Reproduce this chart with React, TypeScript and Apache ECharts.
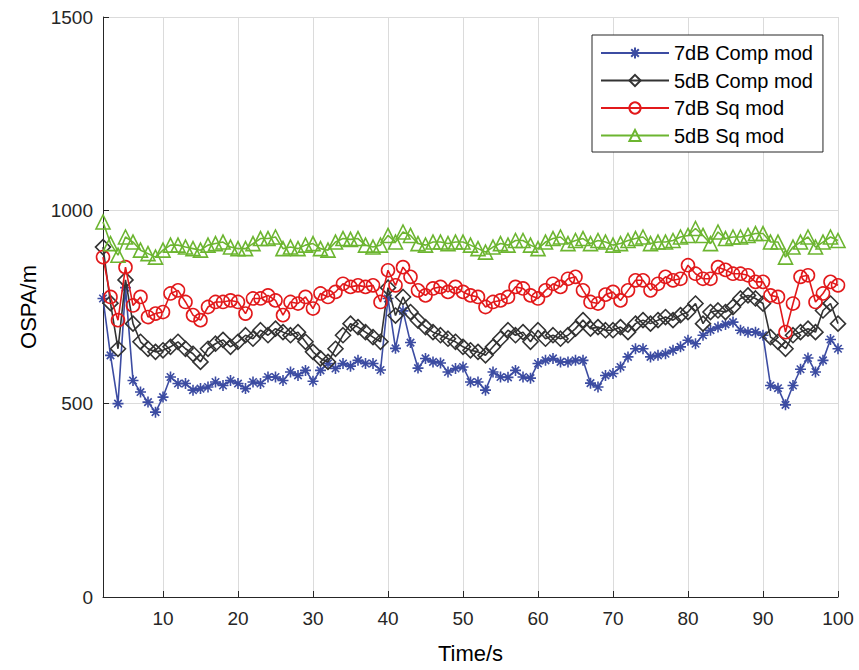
import React, { useEffect, useRef } from 'react';
import * as echarts from 'echarts';

const timeStart = 2;
const timeEnd = 100;
const times: number[] = [];
for (let t = timeStart; t <= timeEnd; t++) times.push(t);

const xTicks = [10, 20, 30, 40, 50, 60, 70, 80, 90, 100];
const seriesNames = ['7dB Comp mod', '5dB Comp mod', '7dB Sq mod', '5dB Sq mod'];

const comp7 = [772, 625, 500, 800, 560, 530, 504, 478, 517, 569, 552, 552, 535, 539, 543, 556, 547, 560, 552, 539,
  556, 552, 569, 569, 560, 582, 573, 586, 558, 586, 604, 591, 604, 597, 612, 604, 604, 587, 772, 643,
  740, 658, 592, 617, 608, 605, 582, 591, 595, 556, 556, 535, 582, 569, 568, 586, 569, 566, 604, 612,
  617, 608, 608, 612, 612, 553, 543, 573, 578, 595, 621, 642, 642, 621, 625, 629, 638, 647, 664, 655,
  677, 690, 698, 705, 711, 690, 685, 685, 677, 547, 540, 497, 547, 589, 618, 582, 612, 666, 642];

const comp5 = [905, 760, 642, 820, 707, 660, 642, 634, 638, 647, 660, 642, 629, 608, 642, 655, 665, 647, 660, 677,
  668, 690, 677, 694, 685, 677, 685, 660, 634, 617, 608, 642, 677, 707, 698, 685, 672, 660, 800, 728,
  776, 737, 715, 698, 685, 677, 668, 660, 647, 638, 634, 625, 647, 668, 690, 677, 685, 660, 690, 668,
  677, 668, 677, 694, 716, 694, 698, 690, 690, 698, 685, 707, 716, 707, 716, 724, 716, 729, 737, 759,
  707, 737, 741, 737, 750, 772, 780, 772, 759, 672, 660, 642, 677, 685, 694, 685, 741, 759, 707];

const sq7 = [879, 776, 716, 853, 754, 776, 724, 733, 737, 785, 793, 763, 729, 716, 750, 763, 763, 767, 763, 733,
  772, 772, 780, 767, 729, 763, 759, 776, 746, 785, 776, 789, 810, 802, 806, 802, 806, 763, 845, 806,
  853, 828, 793, 780, 798, 802, 789, 802, 789, 780, 776, 750, 763, 767, 776, 802, 798, 780, 772, 793,
  810, 802, 823, 828, 793, 763, 759, 782, 789, 767, 793, 819, 819, 793, 810, 828, 819, 823, 858, 836,
  823, 823, 853, 846, 836, 836, 832, 815, 815, 780, 776, 685, 759, 828, 832, 763, 785, 815, 806];

const sq5 = [970, 914, 884, 931, 918, 897, 888, 879, 897, 910, 910, 905, 901, 897, 910, 914, 918, 905, 901, 901,
  914, 927, 927, 931, 901, 905, 901, 910, 914, 901, 897, 918, 927, 925, 927, 910, 905, 910, 935, 918,
  944, 935, 914, 910, 918, 918, 914, 918, 918, 910, 901, 892, 905, 914, 910, 922, 922, 910, 901, 918,
  927, 931, 914, 922, 927, 914, 922, 918, 910, 914, 922, 927, 931, 914, 918, 918, 922, 931, 935, 953,
  935, 914, 944, 927, 931, 931, 935, 940, 940, 918, 918, 879, 905, 918, 931, 905, 918, 931, 922];

const colors = ['#3C4CA2', '#333333', '#E2191B', '#6CB530'];
const starPath = 'path://M5,0L5,10M0,5L10,5M1.6,1.6L8.4,8.4M1.6,8.4L8.4,1.6';

function pairs(vals: number[]) {
  return vals.map((v, i) => [times[i], v]);
}

export default function App() {
  const ref = useRef<HTMLDivElement>(null);
  useEffect(() => {
    document.body.style.margin = '0';
    const chart = echarts.init(ref.current!, null, { renderer: 'svg' });
    const font = 'Liberation Sans, Arial, Helvetica, sans-serif';
    const mk = (idx: number, vals: number[], symbol: string, size: number, filled: boolean) => ({
      type: 'line',
      name: seriesNames[idx],
      data: pairs(vals),
      symbol,
      symbolSize: size,
      symbolKeepAspect: true,
      showAllSymbol: true,
      lineStyle: { color: colors[idx], width: 1.6 },
      itemStyle: {
        color: filled ? colors[idx] : 'rgba(255,255,255,0)',
        borderColor: colors[idx],
        borderWidth: 1.6,
      },
      emphasis: { disabled: true },
      z: 2 + idx,
    });
    chart.setOption({
      animation: false,
      textStyle: { fontFamily: font },
      grid: { left: 103, right: 21, top: 17, bottom: 73, containLabel: false },
      xAxis: {
        type: 'value',
        min: timeStart,
        max: timeEnd,
        name: 'Time/s',
        nameLocation: 'middle',
        nameGap: 45,
        nameTextStyle: { fontSize: 22, color: '#000', fontFamily: font },
        axisLine: { show: true, lineStyle: { color: '#262626', width: 1 } },
        axisTick: { show: true, inside: true, length: 6, customValues: xTicks, lineStyle: { color: '#262626' } },
        axisLabel: { customValues: xTicks, fontSize: 19, color: '#262626', margin: 12, fontFamily: font },
        splitLine: { show: true, lineStyle: { color: '#DBDBDB', width: 1 } },
      },
      yAxis: {
        type: 'value',
        min: 0,
        max: 1500,
        interval: 500,
        name: 'OSPA/m',
        nameLocation: 'middle',
        nameGap: 60,
        nameTextStyle: { fontSize: 22, color: '#000', fontFamily: font },
        axisLine: { show: true, lineStyle: { color: '#262626', width: 1 } },
        axisTick: { show: true, inside: true, length: 6, lineStyle: { color: '#262626' } },
        axisLabel: { fontSize: 19, color: '#262626', margin: 10, fontFamily: font, formatter: (v: number) => String(v) },
        splitLine: { show: true, lineStyle: { color: '#DBDBDB', width: 1 } },
      },
      legend: {
        orient: 'vertical',
        left: 592,
        top: 35,
        padding: [8, 10, 6.5, 8],
        itemWidth: 68,
        itemHeight: 14,
        itemGap: 7.5,
        backgroundColor: '#fff',
        borderColor: '#262626',
        borderWidth: 1,
        borderRadius: 0,
        textStyle: { fontSize: 20, color: '#000', lineHeight: 20, fontFamily: font },
        data: seriesNames,
      },
      series: [
        mk(0, comp7, starPath, 11, false),
        mk(1, comp5, 'diamond', 15, false),
        mk(2, sq7, 'circle', 13, false),
        mk(3, sq5, 'triangle', 14, false),
      ],
    });
    return () => chart.dispose();
  }, []);
  return <div ref={ref} style={{ width: 859, height: 670 }} />;
}
